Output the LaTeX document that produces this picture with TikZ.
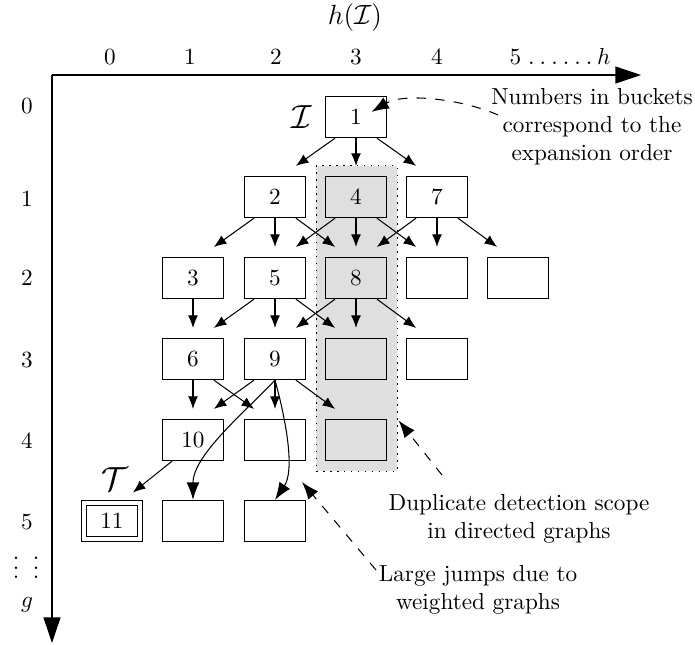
\documentclass[tikz,border=0pt]{standalone}
\usetikzlibrary{arrows.meta,calc}
% short edges between neighbouring buckets: left, straight down, right
\newcommand\edL[2]{\draw[edge] ([xshift=-9pt]#1.south) -- ([xshift=9pt,yshift=4.3pt]#2.north);}
\newcommand\edD[2]{\draw[edge] (#1.south) -- ([yshift=4.3pt]#2.north);}
\newcommand\edR[2]{\draw[edge] ([xshift=9pt]#1.south) -- ([xshift=-9pt,yshift=4.3pt]#2.north);}
\begin{document}
\begin{tikzpicture}[x=0.431pt,y=-0.431pt,
  bucket/.style={draw, line width=0.5pt, minimum width=26.3pt, minimum height=17.7pt, inner sep=0pt},
  goal/.style={draw, double, double distance=1.9pt, line width=0.45pt, minimum width=24.1pt, minimum height=15.5pt, inner sep=0pt},
  edge/.style={-{Latex[length=5.4pt,width=4.3pt]}, line width=0.45pt},
  jump/.style={-{Latex[length=7.5pt,width=5.5pt]}, line width=0.45pt},
  note/.style={-{Latex[length=7.5pt,width=5.5pt]}, line width=0.45pt, dash pattern=on 4pt off 4pt},
  axis/.style={-{Triangle[length=11pt,width=7.3pt]}, line width=0.5pt},
  lbl/.style={inner sep=0pt, align=center}]
\path[use as bounding box] (0,0) rectangle (695,645);

% duplicate detection scope (column 3)
\node[draw, fill=gray!25, dash pattern=on 0.7pt off 2.3pt, line width=0.4pt,
      minimum width=34.9pt, minimum height=131.5pt, inner sep=0pt] (scope) at (356.5,318.5) {};

% axes
\coordinate (O) at (52,75);
\coordinate (hend) at (641,75);
\coordinate (gend) at (52,643);
\draw[axis] (O) -- (hend);
\draw[axis] (O) -- (gend);
\node[font=\large] (hlab) at (355,18) {$h(\mathcal{I})$};
\foreach \c/\x in {0/110,1/190,2/276,3/356,4/437}
  \node (hx\c) at (\x,57) {\c};
\node (hx5) at (560,57) {5\kern3pt.\kern2.2pt.\kern2.2pt.\kern2.2pt.\kern2.2pt.\kern2.2pt.\kern2pt$h$};
\foreach \r/\y in {0/106,1/199,2/278,3/360,4/441,5/522}
  \node (gy\r) at (27,\y) {\r};
\node[inner sep=0pt] (gdotsa) at (16,561) {$\vdots$};
\node[inner sep=0pt] (gdotsb) at (36,561) {$\vdots$};
\node (gy) at (27,605) {$g$};

% buckets
\node[bucket] (r0c3) at (356,117) {1};
\node[bucket] (r1c2) at (275,197) {2};
\node[bucket] (r1c3) at (356,197) {4};
\node[bucket] (r1c4) at (437,197) {7};
\node[bucket] (r2c1) at (193,278) {3};
\node[bucket] (r2c2) at (275,278) {5};
\node[bucket] (r2c3) at (356,278) {8};
\node[bucket] (r2c4) at (437,278) {};
\node[bucket] (r2c5) at (518,278) {};
\node[bucket] (r3c1) at (193,359) {6};
\node[bucket] (r3c2) at (275,359) {9};
\node[bucket] (r3c3) at (356,359) {};
\node[bucket] (r3c4) at (437,359) {};
\node[bucket] (r4c1) at (193,440) {10};
\node[bucket] (r4c2) at (275,440) {};
\node[bucket] (r4c3) at (356,440) {};
\node[goal]   (r5c0) at (112,521) {11};
\node[bucket] (r5c1) at (193,521) {};
\node[bucket] (r5c2) at (275,521) {};

\node[font=\Large] (init) at (302,117) {$\mathcal{I}$};
\node[font=\Large] (target) at (115,479) {$\mathcal{T}$};

% expansions
\edL{r0c3}{r1c2} \edD{r0c3}{r1c3} \edR{r0c3}{r1c4}
\edL{r1c2}{r2c1} \edD{r1c2}{r2c2} \edR{r1c2}{r2c3}
\edL{r1c3}{r2c2} \edD{r1c3}{r2c3} \edR{r1c3}{r2c4}
\edL{r1c4}{r2c3} \edD{r1c4}{r2c4} \edR{r1c4}{r2c5}
\edD{r2c1}{r3c1}
\edL{r2c2}{r3c1} \edD{r2c2}{r3c2} \edR{r2c2}{r3c3}
\edL{r2c3}{r3c2} \edD{r2c3}{r3c3} \edR{r2c3}{r3c4}
\edD{r3c1}{r4c1} \edR{r3c1}{r4c2}
\edL{r3c2}{r4c1} \edD{r3c2}{r4c2} \edR{r3c2}{r4c3}
\edL{r4c1}{r5c0}

% large jumps
\draw[jump] (r3c2.south) .. controls (245,412) and (193,455) .. (r5c1.north);
\draw[jump] (r3c2.south) .. controls (286,420) and (295,470) .. (r5c2.north);

% annotations
\node[lbl] (n1) at (592,127) {Numbers in buckets\\correspond to the\\expansion order};
\node[lbl] (n2) at (519,519) {Duplicate detection scope\\in directed graphs};
\node[lbl] (n3) at (478,590) {Large jumps due to\\weighted graphs};

\coordinate (t1) at (498,115);
\coordinate (t2) at (442,475);
\coordinate (t3) at (376,570);
\draw[note] (t1) .. controls (465,100) and (405,92) .. ([xshift=-6.7pt,yshift=2.2pt]r0c3.east);
\draw[note] (t2) -- ([xshift=0.5pt,yshift=22pt]scope.south east);
\draw[note] (t3) -- (302,482);
\end{tikzpicture}
\end{document}
